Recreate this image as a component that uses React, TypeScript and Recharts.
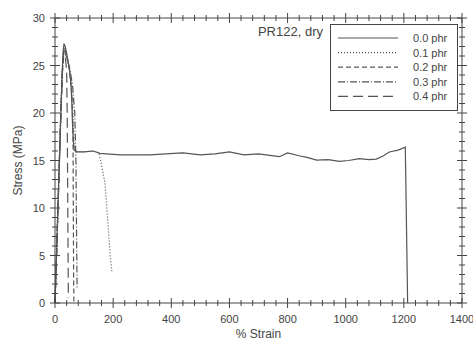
import { LineChart, Line, XAxis, YAxis, Legend } from "recharts";

// stress-strain curves
const strain00 = [0, 5, 10, 15, 20, 25, 28, 31, 35, 40, 45, 50, 55, 58, 60, 63, 66, 75, 100, 131, 155, 224, 327, 380, 440, 500, 550, 600, 650, 700, 772, 800, 840, 870, 900, 940, 978, 1010, 1047, 1080, 1105, 1130, 1150, 1180, 1205, 1213];
const stress00 = [0, 5, 10, 15, 20, 24.5, 26.5, 27.3, 27, 26.3, 25.5, 24.5, 23, 21, 19, 17, 16.1, 15.9, 15.9, 16.0, 15.75, 15.6, 15.6, 15.7, 15.8, 15.6, 15.7, 15.9, 15.6, 15.7, 15.4, 15.8, 15.5, 15.3, 15.05, 15.1, 14.9, 15.0, 15.2, 15.1, 15.15, 15.5, 15.9, 16.1, 16.4, 0];

const strain01 = [0, 5, 10, 15, 20, 25, 30, 35, 40, 50, 58, 63, 66, 75, 100, 130, 151, 160, 172, 182, 190, 196];
const stress01 = [0, 5, 10, 15, 20, 24.3, 26.8, 26.7, 26, 24.5, 22, 19, 16.5, 15.9, 15.9, 16, 15.8, 14.5, 12.6, 8.4, 5, 3.2];

const strain02 = [0, 5, 10, 15, 20, 25, 30, 35, 40, 50, 58, 62, 63, 64, 65];
const stress02 = [0, 4.8, 9.8, 14.8, 19.8, 24, 26.8, 26.6, 26, 24.5, 22, 18, 10, 3, 0];

const strain03 = [0, 5, 10, 15, 20, 25, 30, 35, 40, 50, 60, 68, 72, 74, 76];
const stress03 = [0, 4.9, 9.9, 14.9, 19.9, 24.2, 26.5, 26.4, 25.8, 24.8, 23, 20, 15, 8, 1.5];

const strain04 = [0, 5, 10, 15, 20, 25, 30, 35, 40, 42, 43, 44, 45, 46];
const stress04 = [0, 4.5, 9.5, 14.5, 19.5, 24, 26.3, 26, 24.5, 20, 15, 10, 5, 0.5];

const seriesNames = ["0.0 phr", "0.1 phr", "0.2 phr", "0.3 phr", "0.4 phr"];
const dashes = ["", "1 2", "5 3", "7 2 1 2", "10 5"];

const xMajor = [0, 200, 400, 600, 800, 1000, 1200, 1400];
const yMajor = [0, 5, 10, 15, 20, 25, 30];
const xTicks = Array.from({ length: 36 }, (_, i) => i * 40);
const yTicks = Array.from({ length: 31 }, (_, i) => i);

const toPoints = (xs: number[], ys: number[]) => xs.map((x, i) => ({ x, y: ys[i] }));
const series = [
  toPoints(strain00, stress00),
  toPoints(strain01, stress01),
  toPoints(strain02, stress02),
  toPoints(strain03, stress03),
  toPoints(strain04, stress04),
];

const ink = "#444";
const lineInk = "#555";
const font = "Liberation Sans, Arial, sans-serif";

const XTick = ({ x, y, payload, showLabel }: any) => {
  const major = xMajor.includes(payload.value);
  const len = major ? 5 : 3;
  return (
    <g>
      <line x1={x} x2={x} y1={y - len} y2={y + len} stroke={ink} />
      {showLabel && major && (
        <text x={x} y={y + 20} textAnchor="middle" fontSize={11} fill={ink} fontFamily={font}>
          {payload.value}
        </text>
      )}
    </g>
  );
};

const YTick = ({ x, y, payload, showLabel }: any) => {
  const major = yMajor.includes(payload.value);
  const len = major ? 5 : 3;
  return (
    <g>
      <line x1={x - len} x2={x + len} y1={y} y2={y} stroke={ink} />
      {showLabel && major && (
        <text x={x - 10} y={y + 4} textAnchor="end" fontSize={11} fill={ink} fontFamily={font}>
          {payload.value}
        </text>
      )}
    </g>
  );
};

const LegendBox = () => (
  <svg width={172} height={92} style={{ overflow: "visible", display: "block" }}>
    <text x={33} y={12} textAnchor="end" fontSize={13} fill={ink} fontFamily={font}>
      PR122, dry
    </text>
    <rect x={40.5} y={0.5} width={127} height={86} fill="#fff" stroke={ink} />
    {seriesNames.map((name, i) => (
      <g key={name}>
        <line
          x1={48}
          x2={108}
          y1={14 + i * 14.6}
          y2={14 + i * 14.6}
          stroke={lineInk}
          strokeWidth={1.2}
          strokeDasharray={dashes[i]}
        />
        <text x={123} y={18 + i * 14.6} fontSize={11} fill={ink} fontFamily={font}>
          {name}
        </text>
      </g>
    ))}
  </svg>
);

export default function App() {
  return (
    <div style={{ position: "absolute", left: 0, top: 0, background: "#fff" }}>
      <LineChart width={473} height={350} margin={{ top: 17, right: 10, bottom: 7, left: 15 }}>
        <XAxis
          type="number"
          dataKey="x"
          domain={[0, 1400]}
          ticks={xTicks}
          interval={0}
          tickSize={0}
          tickMargin={0}
          tickLine={false}
          height={40}
          stroke={ink}
          tick={<XTick showLabel />}
          label={{ value: "% Strain", position: "insideBottom", offset: 5, fill: ink, fontSize: 12, fontFamily: font }}
        />
        <XAxis
          xAxisId="top"
          orientation="top"
          type="number"
          dataKey="x"
          domain={[0, 1400]}
          allowDataOverflow
          ticks={xTicks}
          interval={0}
          tickSize={0}
          tickMargin={0}
          tickLine={false}
          height={1}
          stroke={ink}
          tick={<XTick />}
        />
        <YAxis
          type="number"
          domain={[0, 30]}
          ticks={yTicks}
          interval={0}
          tickSize={0}
          tickMargin={0}
          tickLine={false}
          width={40}
          stroke={ink}
          tick={<YTick showLabel />}
          label={{
            value: "Stress (MPa)",
            angle: -90,
            position: "insideLeft",
            offset: 3,
            fill: ink,
            fontSize: 12,
            fontFamily: font,
            style: { textAnchor: "middle" },
          }}
        />
        <YAxis
          yAxisId="right"
          orientation="right"
          type="number"
          domain={[0, 30]}
          allowDataOverflow
          ticks={yTicks}
          interval={0}
          tickSize={0}
          tickMargin={0}
          tickLine={false}
          width={1}
          stroke={ink}
          tick={<YTick />}
        />
        <Legend
          layout="vertical"
          align="center"
          verticalAlign="middle"
          wrapperStyle={{ position: "absolute", top: 24, left: 290, width: 172, height: 92 }}
          content={() => <LegendBox />}
        />
        {/* invisible copy so the top/right frame axes get drawn */}
        <Line
          xAxisId="top"
          yAxisId="right"
          data={series[0]}
          dataKey="y"
          stroke="none"
          dot={false}
          legendType="none"
          isAnimationActive={false}
        />
        {series.map((data, i) => (
          <Line
            key={seriesNames[i]}
            data={data}
            dataKey="y"
            name={seriesNames[i]}
            type="linear"
            stroke={lineInk}
            strokeWidth={1.2}
            strokeDasharray={dashes[i]}
            dot={false}
            isAnimationActive={false}
          />
        ))}
      </LineChart>
    </div>
  );
}
